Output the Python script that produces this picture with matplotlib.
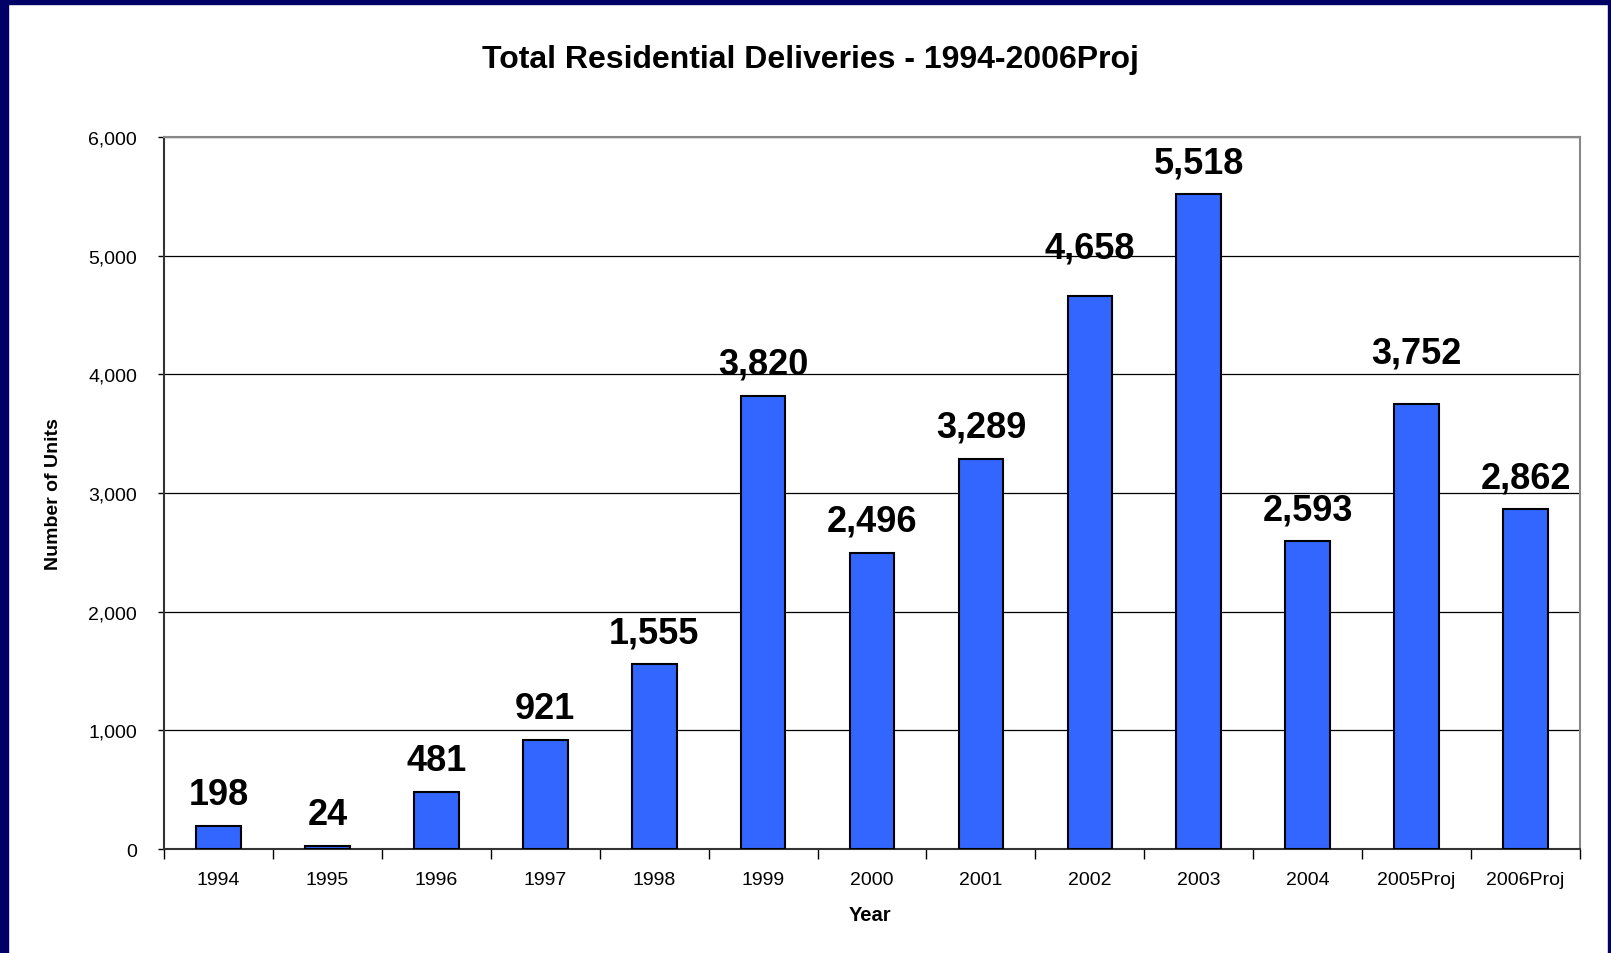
import numpy as np
import matplotlib.pyplot as plt
from matplotlib.patches import Rectangle

# data
years = ['1994', '1995', '1996', '1997', '1998', '1999', '2000',
         '2001', '2002', '2003', '2004', '2005Proj', '2006Proj']
units = [198, 24, 481, 921, 1555, 3820, 2496, 3289, 4658, 5518, 2593, 3752, 2862]
# extra lift (points) for a couple of labels, as placed in the original
label_lift = [0, 0, 0, 0, 0, 0, 0, 0, 12, 0, 0, 14, 0]

plt.rcParams['font.family'] = ['Liberation Sans', 'DejaVu Sans']

fig = plt.figure(figsize=(16.11, 9.54), dpi=100)
ax = fig.add_axes([0.1018, 0.109, 0.8790, 0.7463])

x = np.arange(len(years))
ax.bar(x, units, width=0.41, color='#3366ff', edgecolor='black', linewidth=1.5, zorder=3)

for xi, v, lift in zip(x, units, label_lift):
    ax.annotate(f'{v:,}', (xi, v), xytext=(0, 10 + lift), textcoords='offset points',
                ha='center', va='bottom', fontsize=26, fontweight='bold')

ax.set_xlim(-0.5, len(years) - 0.5)
ax.set_ylim(0, 6000)
ax.set_yticks(np.arange(0, 6001, 1000))
ax.set_yticklabels([f'{t:,}' for t in range(0, 6001, 1000)], fontsize=14)
ax.yaxis.grid(True, color='black', linewidth=0.9, zorder=0)
ax.set_axisbelow(True)

# category ticks sit between the bars
ax.set_xticks(np.arange(-0.5, len(years), 1.0))
ax.set_xticklabels([])
ax.set_xticks(x, minor=True)
ax.set_xticklabels(years, minor=True, fontsize=14)
ax.tick_params(axis='x', which='major', length=7, width=1, direction='out')
ax.tick_params(axis='x', which='minor', length=0, pad=16)
ax.tick_params(axis='y', length=4.5, width=1, direction='out', pad=15)

for s in ['left', 'bottom']:
    ax.spines[s].set_color('#333333')
    ax.spines[s].set_linewidth(1.5)
for s in ['top', 'right']:
    ax.spines[s].set_color('#888888')
    ax.spines[s].set_linewidth(1.5)

fig.text(0.503, 0.937, 'Total Residential Deliveries - 1994-2006Proj',
         ha='center', va='center', fontsize=23, fontweight='bold')
fig.text(0.540, 0.040, 'Year', ha='center', va='center', fontsize=14.5, fontweight='bold')
fig.text(0.033, 0.482, 'Number of Units', ha='center', va='center', rotation=90,
         fontsize=14, fontweight='bold')

# navy slide border
navy = '#000066'
fig.patches.append(Rectangle((0, 0), 8 / 1611, 1, transform=fig.transFigure, color=navy))
fig.patches.append(Rectangle((0, 1 - 5 / 954), 1, 5 / 954, transform=fig.transFigure, color=navy))
fig.patches.append(Rectangle((1 - 3 / 1611, 0), 3 / 1611, 1, transform=fig.transFigure, color=navy))

fig.savefig('out.png', dpi=100)
